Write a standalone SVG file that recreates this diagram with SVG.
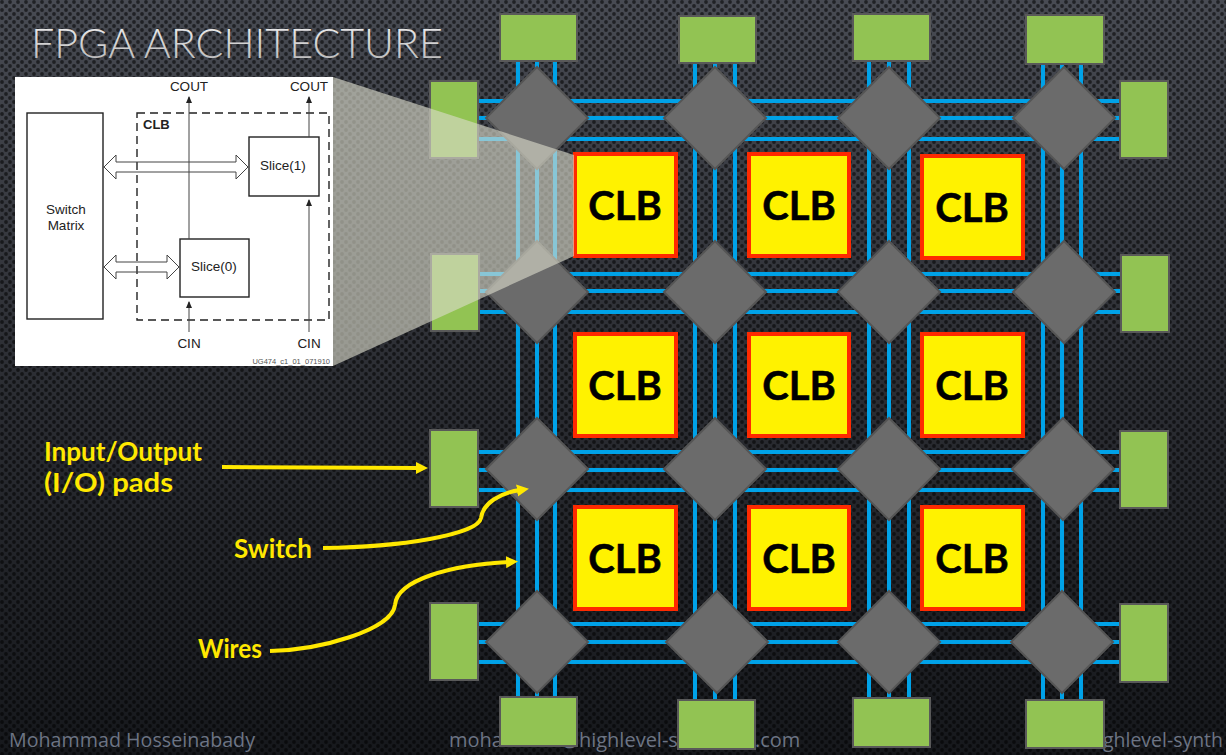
<svg xmlns="http://www.w3.org/2000/svg" width="1226" height="755" viewBox="0 0 1226 755">
<style>
.w{stroke:#00a2e8;stroke-width:4;fill:none}
.pad{fill:#92c353;stroke:#595959;stroke-width:2}
.sw{fill:#6b6b6b;stroke:#555;stroke-width:2}
.clb{fill:#fff200;stroke:#ff2a00;stroke-width:4}
.clbt{font:700 40px Lato,"Liberation Sans",sans-serif;fill:#000;text-anchor:middle;stroke:#000;stroke-width:.5}
.lab{font:700 26px Lato,"Liberation Sans",sans-serif;fill:#ffe800}
.ya{stroke:#ffe800;stroke-width:4;fill:none;marker-end:url(#ah)}
.foot{font:400 20px "Open Sans","Liberation Sans",sans-serif;fill:#6c7484}
.i{fill:none;stroke:#222;stroke-width:1.4}
.il{fill:none;stroke:#444;stroke-width:1}
.it{font:13.5px "Liberation Sans",sans-serif;fill:#222;text-anchor:middle}
</style>
<defs>
<linearGradient id="bg" x1="0" y1="0" x2="0" y2="1"><stop offset="0" stop-color="#484b53"/><stop offset=".45" stop-color="#2e3036"/><stop offset="1" stop-color="#16181c"/></linearGradient>
<linearGradient id="tt" x1="0" y1="0" x2="0" y2="1"><stop offset="0" stop-color="#f4f4f4"/><stop offset="1" stop-color="#b4b4b4"/></linearGradient>
<pattern id="dots" width="8" height="8" patternUnits="userSpaceOnUse"><circle cx="2" cy="2" r="1.9" fill="#000" fill-opacity=".55"/><circle cx="6" cy="6" r="1.9" fill="#000" fill-opacity=".55"/></pattern>
<marker id="ah" markerUnits="userSpaceOnUse" markerWidth="14" markerHeight="14" refX="3" refY="7" orient="auto"><path d="M0,1 L12,7 L0,13 z" fill="#ffe800"/></marker>
<marker id="ik" markerUnits="userSpaceOnUse" markerWidth="8" markerHeight="10" refX="6" refY="4" orient="auto"><path d="M0,1 L7,4 L0,7 z" fill="#222"/></marker>
</defs>
<rect width="1226" height="755" fill="url(#bg)"/>
<rect width="1226" height="755" fill="url(#dots)"/>
<text x="31" y="58" textLength="412" lengthAdjust="spacingAndGlyphs" style="font:300 41px Lato,'Liberation Sans',sans-serif" fill="url(#tt)">FPGA ARCHITECTURE</text>
<g id="footer">
<text class="foot" x="9" y="747" textLength="246" lengthAdjust="spacingAndGlyphs">Mohammad Hosseinabady</text>
<text class="foot" x="449" y="747">moha</text>
<text class="foot" x="561" y="747">@highlevel-s</text>
<text class="foot" x="755" y="747">.com</text>
<text class="foot" x="1103" y="747" textLength="120" lengthAdjust="spacingAndGlyphs">ghlevel-synth</text>
</g>
<g id="connectors">
<path class="w" d="M518,60V700M537,60V700M555,60V700M695,60V700M715,60V700M735,60V700M869,60V700M889,60V700M909,60V700M1043,60V700M1062,60V700M1081,60V700"/>
<path class="w" d="M478,101H1120M478,118H1120M478,139H1120M478,274H1120M478,291H1120M478,312H1120M478,452H1120M478,470H1120M478,490H1120M478,624H1120M478,642H1120M478,662H1120"/>
</g>
<g id="pad-t1"><rect class="pad" x="500" y="14" width="77" height="47"/></g>
<g id="pad-t2"><rect class="pad" x="679" y="16" width="77" height="47"/></g>
<g id="pad-t3"><rect class="pad" x="853" y="14" width="77" height="47"/></g>
<g id="pad-t4"><rect class="pad" x="1026" y="15" width="78" height="49"/></g>
<g id="pad-l1"><rect class="pad" x="430" y="81" width="48" height="77"/></g>
<g id="pad-l2"><rect class="pad" x="431" y="254" width="48" height="77"/></g>
<g id="pad-l3"><rect class="pad" x="430" y="430" width="48" height="77"/></g>
<g id="pad-l4"><rect class="pad" x="430" y="603" width="48" height="77"/></g>
<g id="pad-r1"><rect class="pad" x="1120" y="81" width="48" height="77"/></g>
<g id="pad-r2"><rect class="pad" x="1121" y="255" width="48" height="77"/></g>
<g id="pad-r3"><rect class="pad" x="1120" y="431" width="48" height="77"/></g>
<g id="pad-r4"><rect class="pad" x="1120" y="604" width="48" height="78"/></g>
<g id="pad-b1"><rect class="pad" x="500" y="697" width="77" height="49"/></g>
<g id="pad-b2"><rect class="pad" x="678" y="700" width="77" height="49"/></g>
<g id="pad-b3"><rect class="pad" x="853" y="698" width="77" height="49"/></g>
<g id="pad-b4"><rect class="pad" x="1026" y="700" width="78" height="48"/></g>
<g id="sw-11"><polygon class="sw" points="537,67 588,118 537,169 486,118"/></g>
<g id="sw-12"><polygon class="sw" points="715,67 766,118 715,169 664,118"/></g>
<g id="sw-13"><polygon class="sw" points="889,67 940,118 889,169 838,118"/></g>
<g id="sw-14"><polygon class="sw" points="1064,67 1115,118 1064,169 1013,118"/></g>
<g id="sw-21"><polygon class="sw" points="537,241 588,292 537,343 486,292"/></g>
<g id="sw-22"><polygon class="sw" points="715,241 766,292 715,343 664,292"/></g>
<g id="sw-23"><polygon class="sw" points="889,241 940,292 889,343 838,292"/></g>
<g id="sw-24"><polygon class="sw" points="1064,241 1115,292 1064,343 1013,292"/></g>
<g id="sw-31"><polygon class="sw" points="537,418 588,469 537,520 486,469"/></g>
<g id="sw-32"><polygon class="sw" points="715,418 766,469 715,520 664,469"/></g>
<g id="sw-33"><polygon class="sw" points="889,418 940,469 889,520 838,469"/></g>
<g id="sw-34"><polygon class="sw" points="1063,418 1114,469 1063,520 1012,469"/></g>
<g id="sw-41"><polygon class="sw" points="537,591 588,642 537,693 486,642"/></g>
<g id="sw-42"><polygon class="sw" points="717,591 768,642 717,693 666,642"/></g>
<g id="sw-43"><polygon class="sw" points="889,591 940,642 889,693 838,642"/></g>
<g id="sw-44"><polygon class="sw" points="1062,591 1113,642 1062,693 1011,642"/></g>
<g id="clb-11"><rect class="clb" x="575" y="154" width="101" height="102"/><text class="clbt" x="625" y="220">CLB</text></g>
<g id="clb-12"><rect class="clb" x="749" y="154" width="100" height="102"/><text class="clbt" x="799" y="220">CLB</text></g>
<g id="clb-13"><rect class="clb" x="922" y="156" width="101" height="102"/><text class="clbt" x="972" y="222">CLB</text></g>
<g id="clb-21"><rect class="clb" x="575" y="334" width="101" height="102"/><text class="clbt" x="625" y="400">CLB</text></g>
<g id="clb-22"><rect class="clb" x="749" y="334" width="100" height="102"/><text class="clbt" x="799" y="400">CLB</text></g>
<g id="clb-23"><rect class="clb" x="922" y="334" width="101" height="102"/><text class="clbt" x="972" y="400">CLB</text></g>
<g id="clb-31"><rect class="clb" x="575" y="507" width="101" height="102"/><text class="clbt" x="625" y="573">CLB</text></g>
<g id="clb-32"><rect class="clb" x="749" y="507" width="100" height="102"/><text class="clbt" x="799" y="573">CLB</text></g>
<g id="clb-33"><rect class="clb" x="922" y="507" width="101" height="102"/><text class="clbt" x="972" y="573">CLB</text></g>
<polygon id="zoom-beam" points="333,77 574,155 574,256 333,366" fill="#dcdccb" fill-opacity=".62"/>
<g id="inset">
<rect x="15" y="77" width="318" height="289" fill="#fff"/>
<rect class="i" x="27" y="113" width="76" height="206"/>
<rect class="i" x="137" y="113" width="192" height="207" stroke-dasharray="8 5"/>
<rect class="i" x="249" y="137" width="70" height="59"/>
<rect class="i" x="180" y="239" width="69" height="58"/>
<path class="il" marker-end="url(#ik)" d="M189,239V97"/>
<path class="il" marker-end="url(#ik)" d="M309,137V97"/>
<path class="il" marker-end="url(#ik)" d="M189,332V302"/>
<path class="il" marker-end="url(#ik)" d="M309,332V200"/>
<path class="il" d="M104,167L116,155V162H236V155L248,167L236,179V172H116V179Z"/>
<path class="il" d="M104,267L116,255V262H167V255L179,267L167,279V272H116V279Z"/>
<text class="it" x="189" y="91">COUT</text>
<text class="it" x="309" y="91">COUT</text>
<text class="it" x="66" y="214">Switch</text>
<text class="it" x="66" y="230">Matrix</text>
<text x="143" y="129" style="font:700 13px 'Liberation Sans',sans-serif" fill="#222">CLB</text>
<text class="it" x="283" y="170">Slice(1)</text>
<text class="it" x="214" y="271">Slice(0)</text>
<text class="it" x="189" y="348">CIN</text>
<text class="it" x="309" y="348">CIN</text>
<text x="330" y="364" text-anchor="end" style="font:7.5px 'Liberation Sans',sans-serif" fill="#555">UG474_c1_01_071910</text>
</g>
<g id="labels">
<text class="lab" x="44" y="461" textLength="158" lengthAdjust="spacingAndGlyphs">Input/Output</text>
<text class="lab" x="44" y="492" textLength="129" lengthAdjust="spacingAndGlyphs">(I/O) pads</text>
<text class="lab" x="234" y="558" textLength="78" lengthAdjust="spacingAndGlyphs">Switch</text>
<text class="lab" x="198" y="658" textLength="64" lengthAdjust="spacingAndGlyphs">Wires</text>
</g>
<g id="callouts">
<path class="ya" d="M222,467L419,468"/>
<path class="ya" d="M323,548C400,547 478,535 481,518C483,503 500,493 520,490"/>
<path class="ya" d="M270,651C320,650 392,630 395,605C397,580 450,565 509,562"/>
</g>
</svg>
